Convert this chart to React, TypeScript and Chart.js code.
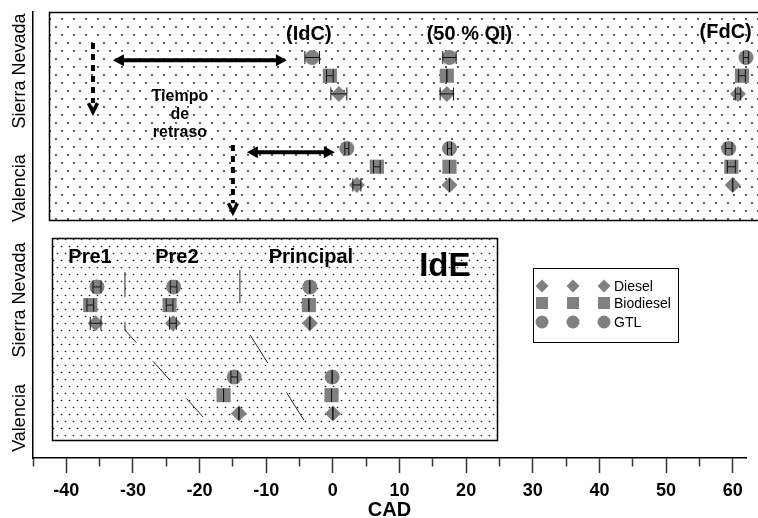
import React, { useEffect, useRef } from 'react';
import { Chart, registerables } from 'chart.js';

Chart.register(...registerables);

const FONT = '"Liberation Sans", Arial, Helvetica, sans-serif';
const MARKER_COLOR = '#808080';

// ---------------- data ----------------
const FUELS = ['Diesel', 'Biodiesel', 'GTL'];
const FUEL_STYLES = ['rectRot', 'rect', 'circle'];
const FUEL_RADII = [8, 10, 7.5];

// Upper panel: combustion events (CAD)
const COMB_EVENTS = ['(IdC)', '(50 % QI)', '(FdC)'];
const SN_COMB_DIESEL = [0.9, 17.1, 60.8];
const SN_COMB_BIODIESEL = [-0.45, 17.1, 61.4];
const SN_COMB_GTL = [-3.1, 17.5, 62.0];
const VAL_COMB_DIESEL = [3.6, 17.5, 60.0];
const VAL_COMB_BIODIESEL = [6.6, 17.5, 59.8];
const VAL_COMB_GTL = [2.1, 17.5, 59.4];
const SN_COMB_DIESEL_ERR = [1.2, 1.0, 0.4];
const SN_COMB_BIODIESEL_ERR = [0.5, 0.0, 0.5];
const SN_COMB_GTL_ERR = [1.1, 1.0, 0.4];
const VAL_COMB_DIESEL_ERR = [0.6, 0.0, 0.0];
const VAL_COMB_BIODIESEL_ERR = [0.5, 0.0, 0.6];
const VAL_COMB_GTL_ERR = [0.3, 0.3, 0.5];

// Lower panel: injection events (CAD)
const SN_INJ_EVENTS = ['Pre1', 'Pre2', 'Principal'];
const SN_INJ_DIESEL = [-35.6, -24.0, -3.45];
const SN_INJ_BIODIESEL = [-36.4, -24.5, -3.6];
const SN_INJ_GTL = [-35.4, -23.9, -3.45];
const VAL_INJ_DIESEL = [-14.1, 0.0];
const VAL_INJ_BIODIESEL = [-16.4, -0.2];
const VAL_INJ_GTL = [-14.8, -0.1];
const SN_INJ_DIESEL_ERR = [0.8, 0.5, 0.0];
const SN_INJ_BIODIESEL_ERR = [0.5, 0.5, 0.0];
const SN_INJ_GTL_ERR = [0.6, 0.5, 0.0];
const VAL_INJ_DIESEL_ERR = [0.0, 0.0];
const VAL_INJ_BIODIESEL_ERR = [0.0, 0.0];
const VAL_INJ_GTL_ERR = [0.5, 0.0];

// rows on the (hidden) vertical axis, order: Diesel, Biodiesel, GTL
const ROW_COMB_SN = [20, 21, 22];
const ROW_COMB_VAL = [15, 16, 17];
const ROW_INJ_SN = [7.4, 8.4, 9.4];
const ROW_INJ_VAL = [2.45, 3.45, 4.45];

// category labels of the vertical axis
const Y_LABELS = ['Sierra Nevada', 'Valencia', 'Sierra Nevada', 'Valencia'];
const Y_LABEL_POS = [21.26, 14.83, 8.68, 2.2];

// x axis
const X_MIN = -45;
const X_MAX = 62;
const X_TICK_LABELS = [-40, -30, -20, -10, 0, 10, 20, 30, 40, 50, 60];
const X_TITLE = 'CAD';

// annotations
const COMB_LABEL_X = [-3.6, 20.5, 58.95];
const COMB_LABEL_Y = [23.24, 23.24, 23.4];
const INJ_LABEL_X = [-36.45, -23.4, -3.3];
const INJ_LABEL_Y = 10.99;
const IDE_LABEL = 'IdE';
const IDE_X = 16.8;
const IDE_Y = 10.49;
const DELAY_TEXT = ['Tiempo', 'de', 'retraso'];
const DELAY_TEXT_X = -22.95;
const DELAY_TEXT_Y = [19.84, 18.85, 17.86];
const DELAY_ARROW_X0 = [-33.0, -12.9];
const DELAY_ARROW_X1 = [-6.9, 0.3];
const DELAY_ARROW_Y = [21.85, 16.8];
const INJ_MARK_X = [-36.0, -15.0];
const INJ_MARK_Y0 = [22.8, 17.2];
const INJ_MARK_Y1 = [19.0, 13.5];
const SHIFT1_X = [-31.2, -31.2, -19.35];
const SHIFT1_Y = [10.22, 7.03, 2.2];
const SHIFT2_X = [-13.95, -13.95, -4.35];
const SHIFT2_Y = [10.33, 7.64, 2.09];
const BOX_X0 = [-42.6, -42.15];
const BOX_X1 = [66, 24.6];
const BOX_Y0 = [13.08, 0.99];
const BOX_Y1 = [24.5, 12.09];

const COMB_SN = [SN_COMB_DIESEL, SN_COMB_BIODIESEL, SN_COMB_GTL];
const COMB_VAL = [VAL_COMB_DIESEL, VAL_COMB_BIODIESEL, VAL_COMB_GTL];
const INJ_SN = [SN_INJ_DIESEL, SN_INJ_BIODIESEL, SN_INJ_GTL];
const INJ_VAL = [VAL_INJ_DIESEL, VAL_INJ_BIODIESEL, VAL_INJ_GTL];
const COMB_SN_ERR = [SN_COMB_DIESEL_ERR, SN_COMB_BIODIESEL_ERR, SN_COMB_GTL_ERR];
const COMB_VAL_ERR = [VAL_COMB_DIESEL_ERR, VAL_COMB_BIODIESEL_ERR, VAL_COMB_GTL_ERR];
const INJ_SN_ERR = [SN_INJ_DIESEL_ERR, SN_INJ_BIODIESEL_ERR, SN_INJ_GTL_ERR];
const INJ_VAL_ERR = [VAL_INJ_DIESEL_ERR, VAL_INJ_BIODIESEL_ERR, VAL_INJ_GTL_ERR];

function makePattern(ctx: CanvasRenderingContext2D, w: number, h: number, dots: number[][], r: number) {
  const c = document.createElement('canvas');
  c.width = w;
  c.height = h;
  const g = c.getContext('2d')!;
  g.fillStyle = '#111';
  dots.forEach(([dx, dy]) => {
    g.beginPath();
    g.arc(dx, dy, r, 0, Math.PI * 2);
    g.fill();
  });
  return ctx.createPattern(c, 'repeat');
}

function drawMarker(ctx: CanvasRenderingContext2D, style: string, x: number, y: number, r: number) {
  ctx.beginPath();
  if (style === 'circle') {
    ctx.arc(x, y, r, 0, Math.PI * 2);
  } else if (style === 'rect') {
    ctx.rect(x - r, y - r, 2 * r, 2 * r);
  } else {
    ctx.moveTo(x, y - r);
    ctx.lineTo(x + r, y);
    ctx.lineTo(x, y + r);
    ctx.lineTo(x - r, y);
    ctx.closePath();
  }
  ctx.fill();
}

const overlayPlugin = {
  id: 'overlay',
  beforeDatasetsDraw(chart: any) {
    const { ctx, scales } = chart;
    const xs = scales.x;
    const ys = scales.y;
    const patterns = [
      makePattern(ctx, 12, 16, [[2, 3], [8, 11]], 0.9),
      makePattern(ctx, 8, 14, [[1.5, 1.5], [5.5, 8.5]], 0.8),
    ];
    ctx.save();
    for (let i = 0; i < BOX_X0.length; i++) {
      const l = Math.round(xs.getPixelForValue(BOX_X0[i])) + 0.5;
      const r = Math.round(xs.getPixelForValue(BOX_X1[i])) + 0.5;
      const t = Math.round(ys.getPixelForValue(BOX_Y1[i])) + 0.5;
      const b = Math.round(ys.getPixelForValue(BOX_Y0[i])) + 0.5;
      ctx.fillStyle = patterns[i] as any;
      ctx.fillRect(l, t, r - l, b - t);
      ctx.strokeStyle = '#000';
      ctx.lineWidth = 1.5;
      ctx.strokeRect(l, t, r - l, b - t);
    }
    ctx.restore();
  },
  afterDatasetsDraw(chart: any) {
    const { ctx, scales } = chart;
    const xs = scales.x;
    const ys = scales.y;
    ctx.save();
    // error bars
    chart.data.datasets.forEach((ds: any, i: number) => {
      if (!ds.xErr) return;
      const meta = chart.getDatasetMeta(i);
      meta.data.forEach((pt: any, j: number) => {
        const v = ds.data[j].x;
        const e = ds.xErr[j];
        const x0 = xs.getPixelForValue(v - e);
        const x1 = xs.getPixelForValue(v + e);
        const y = pt.y;
        ctx.strokeStyle = '#111';
        ctx.lineWidth = 1;
        ctx.beginPath();
        ctx.moveTo(x0, y);
        ctx.lineTo(x1, y);
        ctx.moveTo(x0, y - 6.5);
        ctx.lineTo(x0, y + 6.5);
        ctx.moveTo(x1, y - 6.5);
        ctx.lineTo(x1, y + 6.5);
        ctx.stroke();
      });
    });

    // double-headed delay arrows
    ctx.fillStyle = '#000';
    ctx.strokeStyle = '#000';
    for (let i = 0; i < DELAY_ARROW_X0.length; i++) {
      const a = xs.getPixelForValue(DELAY_ARROW_X0[i]);
      const b = xs.getPixelForValue(DELAY_ARROW_X1[i]);
      const y = ys.getPixelForValue(DELAY_ARROW_Y[i]);
      const hl = 11;
      const hw = 6;
      ctx.lineWidth = 4;
      ctx.beginPath();
      ctx.moveTo(a + hl - 1, y);
      ctx.lineTo(b - hl + 1, y);
      ctx.stroke();
      ctx.beginPath();
      ctx.moveTo(a, y);
      ctx.lineTo(a + hl, y - hw);
      ctx.lineTo(a + hl, y + hw);
      ctx.closePath();
      ctx.fill();
      ctx.beginPath();
      ctx.moveTo(b, y);
      ctx.lineTo(b - hl, y - hw);
      ctx.lineTo(b - hl, y + hw);
      ctx.closePath();
      ctx.fill();
    }

    // dashed injection markers (vertical, pointing down)
    for (let i = 0; i < INJ_MARK_X.length; i++) {
      const x = xs.getPixelForValue(INJ_MARK_X[i]);
      const y0 = ys.getPixelForValue(INJ_MARK_Y0[i]);
      const y1 = ys.getPixelForValue(INJ_MARK_Y1[i]);
      ctx.lineWidth = 4;
      ctx.setLineDash([6, 5]);
      ctx.beginPath();
      ctx.moveTo(x, y0);
      ctx.lineTo(x, y1 - 9);
      ctx.stroke();
      ctx.setLineDash([]);
      ctx.lineWidth = 3.5;
      ctx.beginPath();
      ctx.moveTo(x - 4.5, y1 - 9);
      ctx.lineTo(x, y1);
      ctx.lineTo(x + 4.5, y1 - 9);
      ctx.stroke();
    }

    // texts
    ctx.fillStyle = '#000';
    ctx.textAlign = 'center';
    ctx.textBaseline = 'middle';
    ctx.font = `bold 20px ${FONT}`;
    COMB_EVENTS.forEach((t, i) => {
      ctx.fillText(t, xs.getPixelForValue(COMB_LABEL_X[i]), ys.getPixelForValue(COMB_LABEL_Y[i]));
    });
    SN_INJ_EVENTS.forEach((t, i) => {
      ctx.fillText(t, xs.getPixelForValue(INJ_LABEL_X[i]), ys.getPixelForValue(INJ_LABEL_Y));
    });
    ctx.font = `bold 33px ${FONT}`;
    ctx.fillText(IDE_LABEL, xs.getPixelForValue(IDE_X), ys.getPixelForValue(IDE_Y));
    ctx.font = `bold 16px ${FONT}`;
    DELAY_TEXT.forEach((t, i) => {
      ctx.fillText(t, xs.getPixelForValue(DELAY_TEXT_X), ys.getPixelForValue(DELAY_TEXT_Y[i]));
    });

    // vertical-axis category labels
    ctx.font = `18px ${FONT}`;
    Y_LABELS.forEach((t, i) => {
      ctx.save();
      ctx.translate(20, ys.getPixelForValue(Y_LABEL_POS[i]));
      ctx.rotate(-Math.PI / 2);
      ctx.fillText(t, 0, 0);
      ctx.restore();
    });

    // legend
    const area = chart.chartArea;
    const lx = area.left + 500;
    const ly = 268;
    ctx.strokeStyle = '#000';
    ctx.lineWidth = 1;
    ctx.strokeRect(lx + 0.5, ly + 0.5, 145, 74);
    const cols = [9, 40, 71];
    const rows = [18, 35, 54];
    const legendR = [6.5, 6, 6.5];
    ctx.fillStyle = MARKER_COLOR;
    FUELS.forEach((f, k) => {
      cols.forEach((cx) => drawMarker(ctx, FUEL_STYLES[k], lx + cx, ly + rows[k], legendR[k]));
    });
    ctx.fillStyle = '#000';
    ctx.textAlign = 'left';
    ctx.font = `14px ${FONT}`;
    FUELS.forEach((f, k) => {
      ctx.fillText(f, lx + 81, ly + rows[k] + 1);
    });
    ctx.restore();
  },
};

function buildDatasets() {
  const ds: any[] = [];
  const shift = [
    [SHIFT1_X, SHIFT1_Y, [25, 25]],
    [SHIFT2_X, SHIFT2_Y, [33, 35]],
  ];
  shift.forEach(([xv, yv, dash]: any) => {
    ds.push({
      type: 'line',
      data: xv.map((x: number, i: number) => ({ x, y: yv[i] })),
      showLine: true,
      borderColor: '#222',
      borderWidth: 1,
      borderDash: dash,
      pointRadius: 0,
      fill: false,
      clip: false,
    });
  });
  FUELS.forEach((fuel, k) => {
    const data: any[] = [];
    const err: number[] = [];
    COMB_SN[k].forEach((x, j) => { data.push({ x, y: ROW_COMB_SN[k] }); err.push(COMB_SN_ERR[k][j]); });
    COMB_VAL[k].forEach((x, j) => { data.push({ x, y: ROW_COMB_VAL[k] }); err.push(COMB_VAL_ERR[k][j]); });
    INJ_SN[k].forEach((x, j) => { data.push({ x, y: ROW_INJ_SN[k] }); err.push(INJ_SN_ERR[k][j]); });
    INJ_VAL[k].forEach((x, j) => { data.push({ x, y: ROW_INJ_VAL[k] }); err.push(INJ_VAL_ERR[k][j]); });
    ds.push({
      label: fuel,
      data,
      xErr: err,
      pointStyle: FUEL_STYLES[k],
      pointRadius: FUEL_RADII[k],
      pointHoverRadius: FUEL_RADII[k],
      pointBackgroundColor: MARKER_COLOR,
      pointBorderWidth: 0,
      borderWidth: 0,
      showLine: false,
      clip: false,
    });
  });
  return ds;
}

export default function App() {
  const ref = useRef<HTMLCanvasElement | null>(null);
  useEffect(() => {
    document.body.style.margin = '0';
    const canvas = ref.current!;
    const chart = new Chart(canvas, {
      type: 'scatter',
      data: { datasets: buildDatasets() },
      options: {
        animation: false,
        responsive: false,
        devicePixelRatio: 1,
        layout: { padding: { left: 33, right: 12, top: 12, bottom: 0 } },
        plugins: { legend: { display: false }, tooltip: { enabled: false }, title: { display: false } },
        events: [],
        scales: {
          x: {
            type: 'linear',
            min: X_MIN,
            max: X_MAX,
            ticks: {
              stepSize: 5,
              includeBounds: false,
              autoSkip: false,
              maxRotation: 0,
              padding: 9,
              color: '#000',
              font: { family: FONT, size: 18, weight: 'bold', lineHeight: 1 },
              callback: (v: any) => (X_TICK_LABELS.includes(Number(v)) ? String(v) : ''),
            },
            grid: {
              drawOnChartArea: false,
              drawTicks: true,
              tickLength: 15,
              tickWidth: 1.5,
              tickColor: '#333',
              tickBorderDash: (c: any) => (c.tick && !X_TICK_LABELS.includes(c.tick.value) ? [8, 100] : []),
            },
            border: { display: true, color: '#000', width: 1.5 },
            title: {
              display: true,
              text: X_TITLE,
              color: '#000',
              font: { family: FONT, size: 20, weight: 'bold', lineHeight: 0.8 },
              padding: { top: -7, bottom: 0 },
            },
          },
          y: {
            type: 'linear',
            min: 0,
            max: 24.5,
            ticks: { display: false },
            grid: { display: false, drawTicks: false },
            border: { display: true, color: '#000', width: 1.5 },
          },
        },
      } as any,
      plugins: [overlayPlugin],
    });
    return () => chart.destroy();
  }, []);
  return <canvas ref={ref} width={758} height={518} style={{ display: 'block' }} />;
}
